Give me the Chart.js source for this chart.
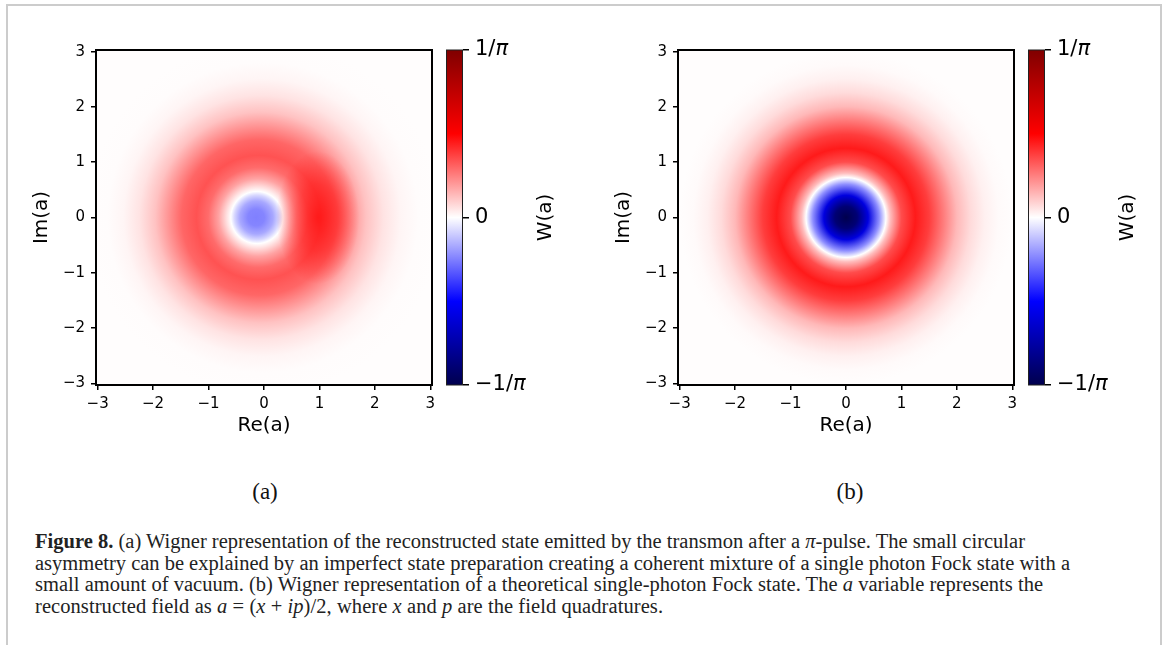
<!DOCTYPE html>
<html>
<head>
<meta charset="utf-8">
<script src="https://cdn.jsdelivr.net/npm/chart.js@4.4.0/dist/chart.umd.min.js"></script>
<style>
  html, body { margin: 0; padding: 0; background: #fff; }
  #page { position: relative; width: 1167px; height: 645px; overflow: hidden; background: #fff; }
  #frame { position: absolute; left: 6px; top: 4px; width: 1152px; height: 700px; border: 2px solid #cccccc; }
  canvas { position: absolute; top: 0; }
  .sub { position: absolute; top: 481px; width: 100px; text-align: center; font: 23px "Liberation Serif", serif; line-height: 22px; color: #111; }
  #caption { position: absolute; left: 35px; top: 531px; font: 20.5px "Liberation Serif", serif; line-height: 21.7px; white-space: nowrap; color: #222; }
  #caption div { display: block; width: max-content; }
</style>
</head>
<body>
<div id="page">
  <div id="frame"></div>
  <canvas id="mapA" width="445" height="450" style="left:0px"></canvas>
  <canvas id="barA" width="140" height="450" style="left:436px"></canvas>
  <canvas id="mapB" width="445" height="450" style="left:582px"></canvas>
  <canvas id="barB" width="140" height="450" style="left:1018px"></canvas>
  <div class="sub" style="left:215px">(a)</div>
  <div class="sub" style="left:800px">(b)</div>
  <div id="caption">
    <div data-w="990"><b>Figure 8.</b> (a) Wigner representation of the reconstructed state emitted by the transmon after a <i>π</i>-pulse. The small circular</div>
    <div data-w="1035">asymmetry can be explained by an imperfect state preparation creating a coherent mixture of a single photon Fock state with a</div>
    <div data-w="1008">small amount of vacuum. (b) Wigner representation of a theoretical single-photon Fock state. The <i>a</i> variable represents the</div>
    <div data-w="628">reconstructed field as <i>a</i> = (<i>x</i> + <i>ip</i>)/2, where <i>x</i> and <i>p</i> are the field quadratures.</div>
  </div>
</div>
<script>
// axes
const axisTicks = [-3, -2, -1, 0, 1, 2, 3];
const axisMin = -3.03, axisMax = 3.03;
const wMax = 1 / Math.PI;
const cbTicks = [-wMax, 0, wMax];
const cbLabels = ['−1/π', '0', '1/π'];

// radial profiles: radius in units of a, W in units of 1/pi
const radiusA = [0, 0.15, 0.3, 0.4, 0.47, 0.55, 0.7, 0.9, 1.12, 1.4, 1.65, 1.9, 2.2, 2.5, 2.8, 3.2];
const wignerA = [-0.25, -0.24, -0.17, -0.08, 0, 0.06, 0.18, 0.29, 0.34, 0.3, 0.21, 0.12, 0.055, 0.02, 0.006, 0.003];
const radiusB = [0, 0.2, 0.4, 0.6, 0.72, 0.8, 1.0, 1.25, 1.5, 1.75, 2.0, 2.25, 2.5, 2.75, 3.0];
const wignerB = [-1, -0.89, -0.59, -0.22, 0, 0.13, 0.35, 0.45, 0.38, 0.26, 0.14, 0.07, 0.03, 0.01, 0.003];

// (a) is not round: the dip sits left of the origin and the ring is deeper on the right
const dipCenterA = [-0.15, 0];
const lobeA = { x: 0.97, y: 0, rx: 0.75, ry: 1.2, depth: 0.7 };

// matplotlib "seismic", v in [-1, 1]
function seismic(v) {
  const st = [[0, 0, 0.3], [0, 0, 1], [1, 1, 1], [1, 0, 0], [0.5, 0, 0]];
  const p = Math.min(Math.max((v + 1) / 2, 0), 1) * 4;
  const i = Math.min(Math.floor(p), 3), f = p - i;
  const c = st[i].map((a, k) => Math.round(255 * (a + (st[i + 1][k] - a) * f)));
  return 'rgb(' + c.join(',') + ')';
}

function fmt(v) {
  return v < 0 ? '−' + (-v) : String(v);
}

const wignerMap = {
  id: 'wignerMap',
  beforeDatasetsDraw(chart, args, opts) {
    const { ctx, chartArea: a } = chart;
    const x = chart.scales.x, y = chart.scales.y;
    const unit = x.getPixelForValue(1) - x.getPixelForValue(0);
    const rs = opts.radius, ws = opts.wigner, R = rs[rs.length - 1];
    const c0 = opts.focus || [0, 0];
    ctx.save();
    ctx.beginPath();
    ctx.rect(a.left, a.top, a.width, a.height);
    ctx.clip();
    const g = ctx.createRadialGradient(x.getPixelForValue(c0[0]), y.getPixelForValue(c0[1]), 0,
      x.getPixelForValue(0), y.getPixelForValue(0), R * unit);
    rs.forEach((r, i) => g.addColorStop(r / R, seismic(ws[i])));
    ctx.fillStyle = g;
    ctx.fillRect(a.left, a.top, a.width, a.height);
    if (opts.lobe) {
      const L = opts.lobe;
      ctx.translate(x.getPixelForValue(L.x), y.getPixelForValue(L.y));
      ctx.scale(L.rx * unit, L.ry * unit);
      const lg = ctx.createRadialGradient(0, 0, 0, 0, 0, 1);
      const k = d => Math.round(255 * (1 - d));
      lg.addColorStop(0, 'rgb(255,' + k(L.depth) + ',' + k(L.depth) + ')');
      lg.addColorStop(0.5, 'rgb(255,' + k(L.depth * 0.6) + ',' + k(L.depth * 0.6) + ')');
      lg.addColorStop(1, 'rgb(255,255,255)');
      ctx.globalCompositeOperation = 'multiply';
      ctx.fillStyle = lg;
      ctx.beginPath();
      ctx.arc(0, 0, 1, 0, 2 * Math.PI);
      ctx.fill();
    }
    ctx.restore();
  },
  afterDraw(chart) {
    const { ctx, chartArea: a } = chart;
    ctx.save();
    ctx.strokeStyle = '#000';
    ctx.lineWidth = 2;
    ctx.strokeRect(a.left, a.top, a.width, a.height);
    ctx.restore();
  }
};

function axis(title, dir) {
  return {
    type: 'linear',
    min: axisMin,
    max: axisMax,
    afterBuildTicks: s => { s.ticks = axisTicks.map(v => ({ value: v })); },
    afterFit: s => { if (dir === 'x') s.height = 65; else s.width = 96; },
    ticks: { color: '#000', font: { family: 'DejaVu Sans', size: 15 }, padding: dir === 'x' ? 5 : 6, maxRotation: 0, callback: v => fmt(v) },
    grid: { drawOnChartArea: false, drawTicks: true, tickLength: 5, color: '#000', lineWidth: 1.5 },
    border: { display: true, color: '#000', width: 2 },
    title: {
      display: true, text: title, color: '#000',
      font: { family: 'DejaVu Sans', size: 20 },
      padding: dir === 'x' ? { top: 0, bottom: 12 } : { top: 30, bottom: 0 }
    }
  };
}

function mapChart(id, radius, wigner, extra) {
  return new Chart(document.getElementById(id), {
    type: 'scatter',
    data: { datasets: [] },
    options: {
      responsive: false,
      animation: false,
      events: [],
      layout: { padding: { left: 0, top: 50, right: 13, bottom: 0 } },
      plugins: {
        legend: { display: false },
        tooltip: { enabled: false },
        wignerMap: Object.assign({ radius: radius, wigner: wigner }, extra)
      },
      scales: { x: axis('Re(a)', 'x'), y: axis('Im(a)', 'y') }
    },
    plugins: [wignerMap]
  });
}

function drawMath(ctx, text, x, y, size) {
  let cx = x;
  for (const ch of text) {
    ctx.font = (ch === 'π' ? 'italic ' : '') + size + 'px "DejaVu Sans"';
    ctx.fillText(ch, cx, y);
    cx += ctx.measureText(ch).width;
  }
}

const colorbarText = {
  id: 'colorbarText',
  afterDraw(chart) {
    const { ctx, chartArea: a } = chart;
    const y = chart.scales.y;
    ctx.save();
    ctx.strokeStyle = '#222';
    ctx.lineWidth = 1;
    ctx.strokeRect(a.left + 0.5, a.top, a.width - 1, a.height);
    ctx.fillStyle = '#000';
    ctx.textBaseline = 'middle';
    ctx.textAlign = 'left';
    cbTicks.forEach((v, i) => drawMath(ctx, cbLabels[i], a.right + 12, y.getPixelForValue(v), 21));
    ctx.translate(a.right + 83, (a.top + a.bottom) / 2);
    ctx.rotate(-Math.PI / 2);
    ctx.textAlign = 'center';
    ctx.font = '20px "DejaVu Sans"';
    ctx.fillText('W(a)', 0, 0);
    ctx.restore();
  }
};

function barChart(id) {
  return new Chart(document.getElementById(id), {
    type: 'bar',
    data: {
      labels: ['W'],
      datasets: [{
        data: [[-wMax, wMax]],
        backgroundColor: c => {
          const ch = c.chart;
          if (!ch.chartArea) return '#fff';
          const y = ch.scales.y;
          const g = ch.ctx.createLinearGradient(0, y.getPixelForValue(-wMax), 0, y.getPixelForValue(wMax));
          [-1, -0.5, 0, 0.5, 1].forEach(v => g.addColorStop((v + 1) / 2, seismic(v)));
          return g;
        },
        borderWidth: 0,
        barPercentage: 1,
        categoryPercentage: 1
      }]
    },
    options: {
      responsive: false,
      animation: false,
      events: [],
      layout: { padding: { left: 10, top: 50, right: 0, bottom: 65 } },
      plugins: { legend: { display: false }, tooltip: { enabled: false } },
      scales: {
        x: { display: false },
        y: {
          position: 'right',
          min: -wMax,
          max: wMax,
          afterBuildTicks: s => { s.ticks = cbTicks.map(v => ({ value: v })); },
          afterFit: s => { s.width = 140 - 10 - 17; },
          ticks: { display: false },
          grid: { drawOnChartArea: false, drawTicks: true, tickLength: 6, color: '#000', lineWidth: 1.5 },
          border: { display: false }
        }
      }
    },
    plugins: [colorbarText]
  });
}

mapChart('mapA', radiusA, wignerA, { focus: dipCenterA, lobe: lobeA });
barChart('barA');
mapChart('mapB', radiusB, wignerB, {});
barChart('barB');

// stretch each caption line to the width it has in the figure
document.querySelectorAll('#caption div').forEach(function (line) {
  const target = Number(line.dataset.w);
  const w = line.getBoundingClientRect().width;
  const n = line.textContent.length - 1;
  line.style.letterSpacing = ((target - w) / n).toFixed(3) + 'px';
});
</script>
</body>
</html>
